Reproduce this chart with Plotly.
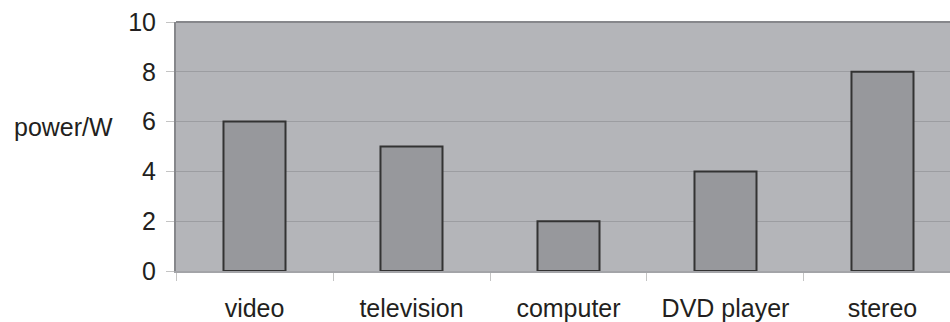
import plotly.graph_objects as go

# Power drawn by household devices on standby
devices = ["video", "television", "computer", "DVD player", "stereo"]
power_w = [6, 5, 2, 4, 8]
y_ticks = [0, 2, 4, 6, 8, 10]

font_family = "Liberation Sans, Arial, Helvetica, sans-serif"
text_color = "#231f20"

fig = go.Figure(
    go.Bar(
        x=devices,
        y=power_w,
        width=0.395,
        marker=dict(color="#97989c", line=dict(color="#333333", width=2)),
    )
)

fig.update_layout(
    width=950,
    height=322,
    margin=dict(l=176, r=0, t=22, b=49),
    paper_bgcolor="white",
    plot_bgcolor="#b4b5b9",
    showlegend=False,
    font=dict(family=font_family, size=25, color=text_color),
    xaxis=dict(
        type="category",
        range=[-0.5, 4.43],
        tickson="boundaries",
        ticks="outside",
        ticklen=8,
        tickcolor="#c4c4c4",
        tickwidth=1,
        showline=True,
        linecolor="#a3a4a8",
        linewidth=1.5,
        showgrid=False,
        ticklabelstandoff=14,
        tickfont=dict(size=25),
    ),
    yaxis=dict(
        range=[0, 10],
        tickvals=y_ticks,
        ticks="outside",
        ticklen=8,
        tickcolor="#c4c4c4",
        tickwidth=1,
        showline=True,
        linecolor="#86878b",
        linewidth=2,
        showgrid=True,
        gridcolor="#9c9da1",
        gridwidth=1.2,
        zeroline=False,
        ticklabelstandoff=5,
        tickfont=dict(size=25),
    ),
    shapes=[
        dict(type="line", xref="paper", yref="paper", x0=0, x1=1, y0=1, y1=1,
             line=dict(color="#86878b", width=2)),
    ],
    annotations=[
        dict(text="power/W", xref="paper", yref="paper", x=-0.079, y=0.58,
             xanchor="right", yanchor="middle", showarrow=False,
             font=dict(size=25, color=text_color, family=font_family)),
    ],
)

fig.write_html("out.html")
